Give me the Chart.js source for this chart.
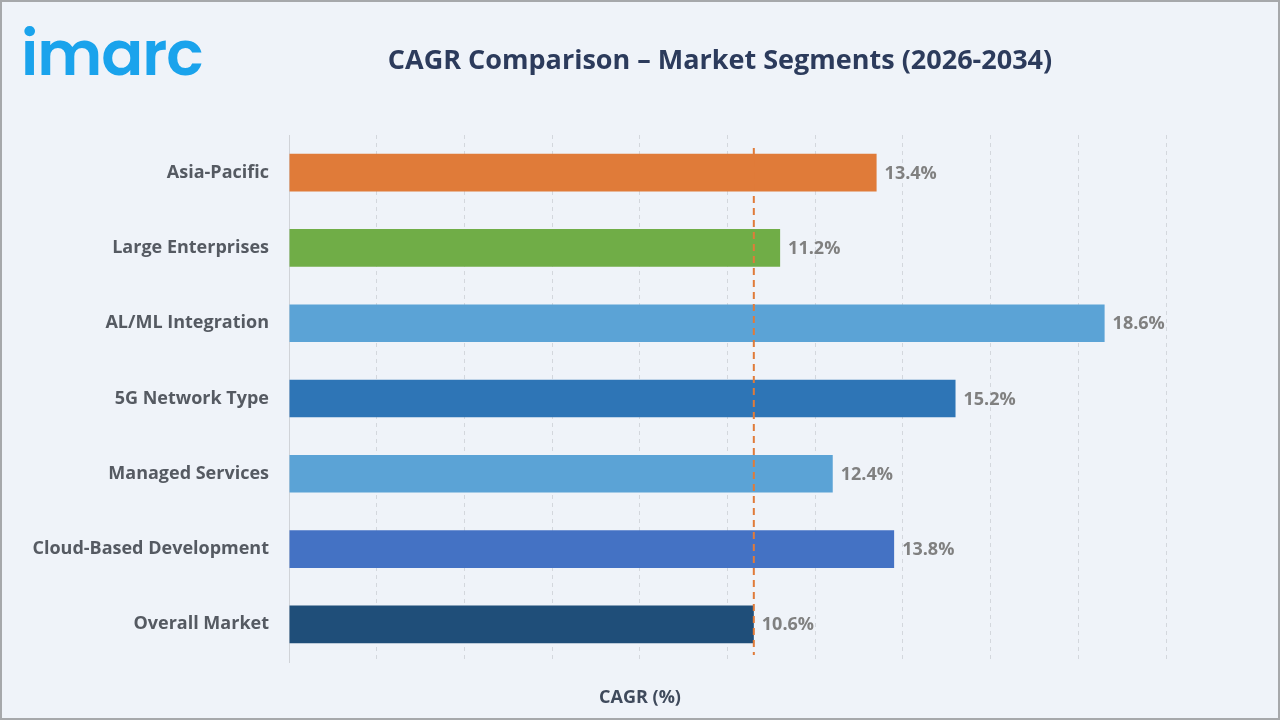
<!DOCTYPE html>
<html><head><meta charset="utf-8">
<script src="https://cdn.jsdelivr.net/npm/chart.js@4/dist/chart.umd.min.js"></script>
<style>
html,body{margin:0;padding:0;background:#eff3f9;}
#wrap{position:relative;width:1280px;height:720px;box-sizing:border-box;border:2px solid #a6a8ab;background:#eff3f9;overflow:hidden;}
#logo{position:absolute;left:19px;top:17px;font-family:"Poppins","Open Sans",sans-serif;font-weight:600;font-size:62px;color:#1aa3ec;letter-spacing:-1px;line-height:70px;}
canvas{position:absolute;left:-2px;top:-2px;}
</style></head>
<body><div id="wrap"><div id="logo">imarc</div><canvas id="c" width="1280" height="720"></canvas></div>
<script>
const categories = ["Asia-Pacific","Large Enterprises","AL/ML Integration","5G Network Type","Managed Services","Cloud-Based Development","Overall Market"];
const cagrValues = [13.4, 11.2, 18.6, 15.2, 12.4, 13.8, 10.6];
const barColors = ["#e07b39","#70ad47","#5ba3d6","#2e75b6","#5ba3d6","#4472c4","#1f4e79"];
const referenceValue = 10.6;
const chartTitle = "CAGR Comparison \u2013 Market Segments (2026-2034)";
const axisTitle = "CAGR (%)";

const FONT = '"Open Sans", "Noto Sans", sans-serif';

const overlay = {
  id: 'overlay',
  afterDatasetsDraw(chart) {
    const ctx = chart.ctx;
    const x = chart.scales.x;
    const meta = chart.getDatasetMeta(0);
    ctx.save();
    const rx = x.getPixelForValue(referenceValue);
    ctx.strokeStyle = '#e07b39';
    ctx.lineWidth = 2;
    ctx.setLineDash([7,5]);
    ctx.beginPath();
    ctx.moveTo(rx, chart.chartArea.top + 13);
    ctx.lineTo(rx, chart.chartArea.bottom - 7);
    ctx.stroke();
    ctx.setLineDash([]);
    ctx.font = 'bold 18px ' + FONT;
    ctx.fillStyle = '#808080';
    ctx.textAlign = 'left';
    ctx.textBaseline = 'middle';
    meta.data.forEach((bar, i) => {
      ctx.fillText(cagrValues[i].toFixed(1) + '%', bar.x + 8, bar.y + 1);
    });
    ctx.font = 'bold 27px ' + FONT;
    ctx.fillStyle = '#2c3b5c';
    ctx.textAlign = 'center';
    ctx.fillText(chartTitle, 720, 61);
    ctx.font = 'bold 18px ' + FONT;
    ctx.fillStyle = '#3f4a5c';
    ctx.fillText(axisTitle, 640, 698);
    ctx.restore();
  }
};

new Chart(document.getElementById('c'), {
  type: 'bar',
  data: {
    labels: categories,
    datasets: [{
      data: cagrValues,
      backgroundColor: barColors,
      borderWidth: 0,
      barPercentage: 0.5,
      categoryPercentage: 1.0
    }]
  },
  options: {
    indexAxis: 'y',
    responsive: false,
    animation: false,
    layout: { padding: { top: 135, right: 114, bottom: 58, left: 0 } },
    plugins: { legend: { display: false }, title: { display: false }, tooltip: { enabled: false } },
    scales: {
      x: {
        min: 0, max: 20,
        ticks: { display: false, stepSize: 2 },
        grid: { color: '#d3d7dd', lineWidth: 1, drawTicks: false },
        border: { display: false, dash: [4,4] }
      },
      y: {
        afterFit(scale) { scale.width = 289; },
        ticks: { color: '#555a62', font: { family: FONT, size: 18, weight: 'bold' }, padding: 20 },
        grid: { display: false, drawTicks: false },
        border: { display: true, color: '#d0d3d8', width: 1 }
      }
    }
  },
  plugins: [overlay]
});
</script></body></html>
